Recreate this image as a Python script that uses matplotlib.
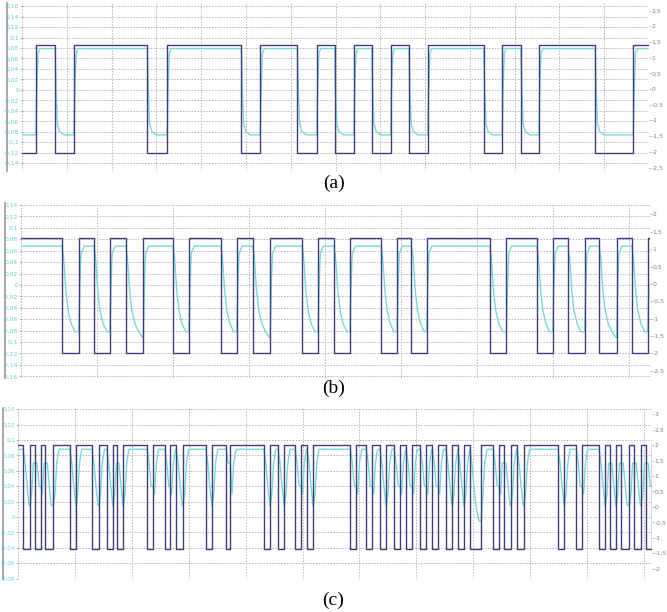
import numpy as np
import matplotlib
matplotlib.use("Agg")
import matplotlib.pyplot as plt
from matplotlib.ticker import MultipleLocator, FuncFormatter
from matplotlib.lines import Line2D

# switching instants (grid divisions)
edges_a = [0.31, 0.74, 1.16, 2.80, 3.24, 4.90, 5.32, 6.15, 6.58, 6.98, 7.41,
           7.81, 8.23, 8.64, 9.06, 10.31, 10.72, 11.14, 11.54, 12.80, 13.65]
edges_b = [0.54, 0.76, 0.96, 1.17, 1.38, 1.61, 2.00, 2.21, 2.63, 2.84, 3.05,
           3.28, 3.70, 3.91, 4.12, 4.33, 4.74, 4.95, 5.14, 5.34, 6.17, 6.39,
           6.79, 7.00, 7.20, 7.42, 7.61, 7.84, 8.04, 8.25]
edges_c = [0.09, 0.21, 0.30, 0.40, 0.48, 0.62, 0.91, 1.02, 1.30, 1.42, 1.56,
           1.67, 1.74, 1.85, 2.27, 2.37, 2.58, 2.67, 2.78, 2.90, 3.30, 3.41,
           3.66, 3.73, 4.32, 4.43, 4.57, 4.68, 4.87, 4.97, 5.08, 5.19, 5.84,
           5.94, 6.12, 6.22, 6.36, 6.47, 6.61, 6.71, 6.82, 6.92, 7.07, 7.17,
           7.28, 7.38, 7.52, 7.63, 7.73, 7.84, 7.94, 8.14, 8.35, 8.45, 8.54,
           8.66, 8.77, 8.89, 9.49, 9.60, 9.81, 9.91, 10.21, 10.32, 10.40,
           10.51, 10.60, 10.74, 10.83, 10.95, 11.04, 11.14]
start_high = {"a": False, "b": True, "c": True}

# levels (left axis units)
dark_levels = {"a": (0.085, -0.12), "b": (0.083, -0.12), "c": (0.093, -0.042)}
cyan_levels = {"a": (0.079, -0.086), "b": (0.068, -0.1), "c": (0.088, -0.045)}

# response shape after an edge: (time after edge, value)
cyan_fall = {
    "a": [(0.02, 0.0), (0.05, -0.065), (0.1, -0.08), (0.2, -0.086)],
    "b": [(0.02, 0.05), (0.05, -0.01), (0.08, -0.045), (0.12, -0.068),
          (0.17, -0.082), (0.22, -0.092), (0.3, -0.1)],
    "c": [(0.035, 0.07), (0.07, 0.04), (0.105, 0.015), (0.16, -0.005),
          (0.25, -0.03), (0.35, -0.045)],
}
cyan_rise = {
    "a": [(0.02, 0.0), (0.05, 0.07), (0.09, 0.079)],
    "b": [(0.015, 0.0), (0.03, 0.055), (0.07, 0.068)],
    "c": [(0.03, 0.03), (0.06, 0.07), (0.1, 0.088)],
}

DARK = "#3d3f7a"
CYAN = "#7bd6da"
GRID = "#b4b4b4"


def dark_trace(edges, high, hi, lo, x0, x1):
    xs, ys = [x0], [hi if high else lo]
    for e in edges:
        xs += [e, e]
        ys += [hi if high else lo, lo if high else hi]
        high = not high
    xs.append(x1)
    ys.append(ys[-1])
    return xs, ys


def cyan_trace(edges, high, hi, lo, fall, rise, x0, x1):
    bounds = [x0] + edges + [x1]
    xs, ys = [], []
    prev = hi if high else lo
    for i in range(len(bounds) - 1):
        t0, t1 = bounds[i], bounds[i + 1]
        prof = rise if high else fall
        if i == 0:
            prof = []
        xs.append(t0)
        ys.append(prev)
        for dt, v in prof:
            if t0 + dt < t1:
                xs.append(t0 + dt)
                ys.append(v)
        xs.append(t1)
        ys.append(ys[-1])
        prev = ys[-1]
        high = not high
    return xs, ys


def comma(v, p):
    s = "%g" % round(v, 4)
    return s.replace(".", ",")


fig = plt.figure(figsize=(6.67, 6.12), dpi=100)
W, H = 667.0, 612.0

# pixel layout: left, right, top, bottom, x-limit, left ylim, right ylim,
# axis bar x, caption y, left label size
panels = [
    ("a", edges_a, 22, 649, 3, 171, 14.0, (-0.155, 0.166), (-2.61, 2.74), 7, 183, 4.3),
    ("b", edges_b, 21, 650, 203, 378, 8.28, (-0.163, 0.1435), (-2.71, 2.33), 5, 388, 4.3),
    ("c", edges_c, 18, 652, 408, 579, 11.14, (-0.0805, 0.1416), (-2.34, 3.21), 3, 600, 4.0),
]

for key, edges, l, r, t, b, xmax, ylim_l, ylim_r, barx, capy, lsize in panels:
    ax = fig.add_axes([l / W, 1 - b / H, (r - l) / W, (b - t) / H])
    hi, lo = dark_levels[key]
    chi, clo = cyan_levels[key]
    cx, cy = cyan_trace(edges, start_high[key], chi, clo,
                        cyan_fall[key], cyan_rise[key], 0, xmax)
    dx, dy = dark_trace(edges, start_high[key], hi, lo, 0, xmax)
    ax.plot(cx, cy, color=CYAN, lw=1.0, zorder=3)
    ax.plot(dx, dy, color=DARK, lw=1.0, zorder=4)

    ax.set_xlim(0, xmax)
    ax.set_ylim(*ylim_l)
    ax.xaxis.set_major_locator(MultipleLocator(1))
    ax.yaxis.set_major_locator(MultipleLocator(0.02))
    ax.yaxis.set_major_formatter(FuncFormatter(comma))
    ax.tick_params(axis="x", length=0, labelbottom=False)
    ax.tick_params(axis="y", length=1.5, width=0.6, color="#aaaaaa", pad=0.5,
                   labelsize=lsize, labelcolor="#5fd0d8")
    ax.grid(True, color=GRID, linestyle=(0, (1.5, 1.5)), linewidth=0.7)
    for s in ax.spines.values():
        s.set_visible(False)

    ax2 = ax.twinx()
    ax2.set_ylim(*ylim_r)
    ax2.yaxis.set_major_locator(MultipleLocator(0.5))
    ax2.yaxis.set_major_formatter(FuncFormatter(comma))
    ax2.tick_params(axis="y", length=1.5, width=0.6, color="#aaaaaa", pad=0.5,
                    labelsize=4.4, labelcolor="#808080")
    for s in ax2.spines.values():
        s.set_visible(False)

    fig.add_artist(Line2D([barx / W, barx / W], [1 - b / H, 1 - t / H],
                          transform=fig.transFigure, color="#9a9a9a", lw=1.2))
    fig.text(0.5, 1 - capy / H, "(%s)" % key, ha="center", va="center",
             fontsize=14, family="Liberation Serif")

fig.savefig("out.png", dpi=100)
